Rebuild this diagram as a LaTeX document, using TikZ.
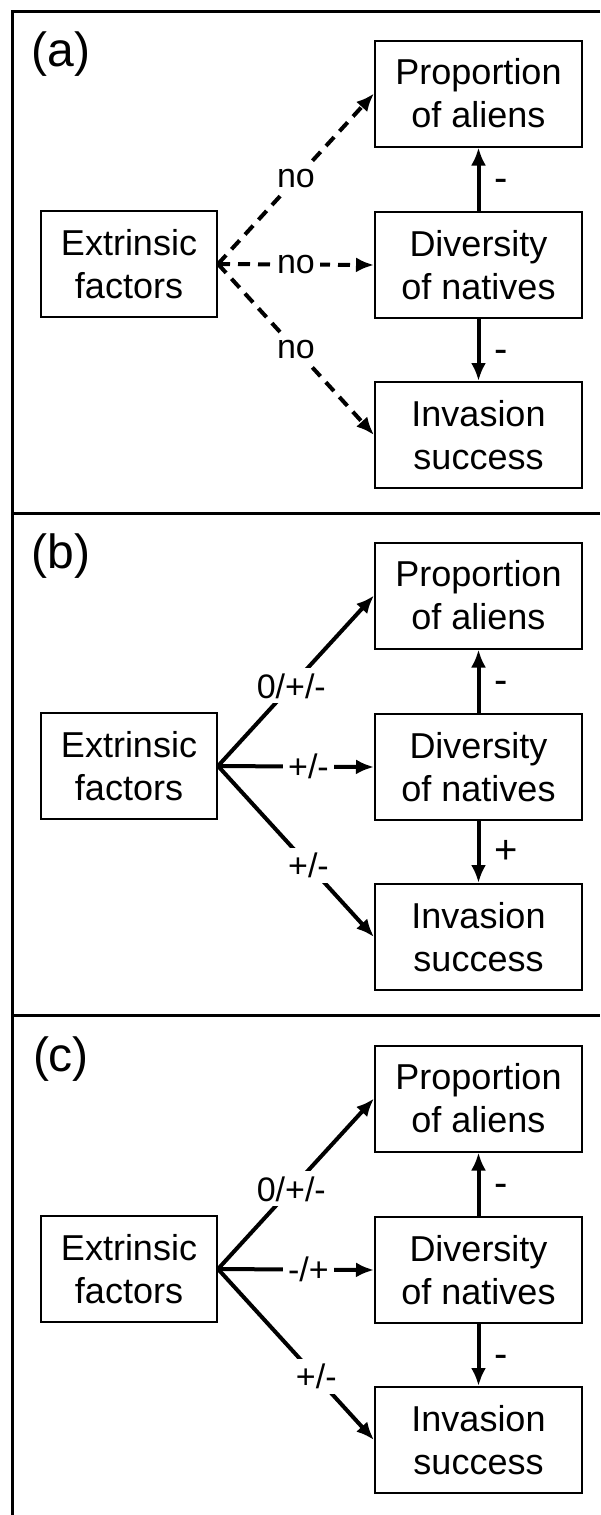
\documentclass[tikz,border=0pt]{standalone}
\usepackage{fontspec}
\setmainfont{Liberation Sans}
\usetikzlibrary{arrows.meta}

\tikzset{
  frame/.style={line width=1.5pt},
  box/.style={draw, line width=1pt, align=center, minimum height=53pt,
    inner sep=0pt, font=\fontsize{18}{21.5}\selectfont},
  tag/.style={font=\fontsize{24}{28}\selectfont},
  conn/.style={line width=2pt, -{Latex[length=9pt,width=7.5pt]}},
  dashline/.style={dash pattern=on 6pt off 4pt},
  elabel/.style={fill=white, inner sep=2.5pt, font=\fontsize{17}{20}\selectfont},
  sign/.style={right, inner sep=0pt, xshift=7pt, yshift=-3pt, font=\fontsize{20}{24}\selectfont}
}

\begin{document}
\begin{tikzpicture}[x=0.5pt, y=-0.5pt]
  \useasboundingbox (0,0) rectangle (600,1515);

  % outer frame and panel dividers
  \draw[frame] (600,11.5) -- (12,11.5) -- (12,1515);
  \draw[frame] (12,513) -- (600,513);
  \draw[frame] (12,1015.5) -- (600,1015.5);

  % the same four boxes in every panel
  \foreach \p/\dy in {a/0, b/502, c/1005} {
    \begin{scope}[shift={(0,\dy)}, name prefix=\p-]
      \node[tag] (tag) at (61,54) {(\p)};
      \node[box, minimum width=88pt] (ext) at (129,264) {Extrinsic\\factors};
      \node[box, minimum width=103.5pt] (prop) at (478.5,93.5) {Proportion\\of aliens};
      \node[box, minimum width=103.5pt] (div) at (478.5,265) {Diversity\\of natives};
      \node[box, minimum width=103.5pt] (inv) at (478.5,435) {Invasion\\success};
    \end{scope}
  }

  % (a)
  \path[conn, dashline]
    (a-ext.east) edge node[elabel] {no} (a-prop.west)
    (a-ext.east) edge node[elabel] {no} (a-div.west)
    (a-ext.east) edge node[elabel] {no} (a-inv.west);
  \path[conn]
    (a-div) edge node[sign] {-} (a-prop)
    (a-div) edge node[sign] {-} (a-inv);

  % (b)
  \path[conn]
    (b-ext.east) edge node[elabel, pos=0.47] {0/+/-} (b-prop.west)
    (b-ext.east) edge node[elabel, pos=0.58] {+/-} (b-div.west)
    (b-ext.east) edge node[elabel, pos=0.58] {+/-} (b-inv.west)
    (b-div) edge node[sign] {-} (b-prop)
    (b-div) edge node[sign, yshift=3pt] {+} (b-inv);

  % (c)
  \path[conn]
    (c-ext.east) edge node[elabel, pos=0.47] {0/+/-} (c-prop.west)
    (c-ext.east) edge node[elabel, pos=0.58] {-/+} (c-div.west)
    (c-ext.east) edge node[elabel, pos=0.63] {+/-} (c-inv.west)
    (c-div) edge node[sign] {-} (c-prop)
    (c-div) edge node[sign] {-} (c-inv);
\end{tikzpicture}
\end{document}
